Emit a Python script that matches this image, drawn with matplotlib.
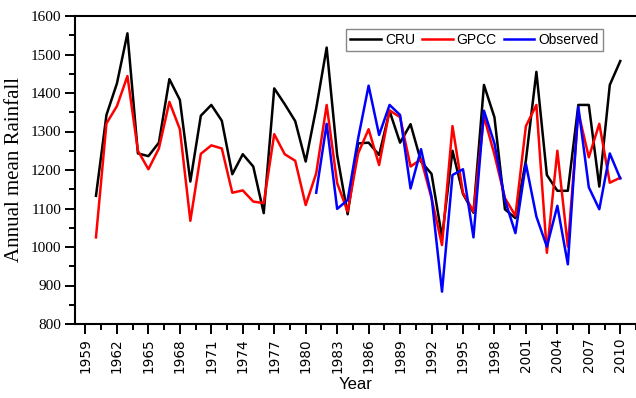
import matplotlib
matplotlib.use("Agg")
import matplotlib.pyplot as plt
from matplotlib.ticker import MultipleLocator

years = list(range(1960, 2011))
obs_years = list(range(1981, 2011))

cru = [1133, 1343, 1425, 1555, 1243, 1236, 1271, 1436, 1382, 1170,
       1341, 1369, 1328, 1189, 1241, 1209, 1088, 1412, 1371, 1327,
       1222, 1360, 1518, 1239, 1085, 1269, 1271, 1239, 1353, 1271,
       1319, 1222, 1190, 1025, 1250, 1138, 1089, 1421, 1337, 1098,
       1075, 1225, 1455, 1187, 1146, 1146, 1369, 1369, 1157, 1421,
       1483]

gpcc = [1025, 1321, 1366, 1444, 1250, 1202, 1256, 1377, 1306, 1068,
        1242, 1264, 1256, 1141, 1147, 1118, 1114, 1293, 1241, 1224,
        1109, 1191, 1369, 1166, 1092, 1243, 1306, 1213, 1355, 1337,
        1209, 1228, 1127, 1005, 1314, 1141, 1092, 1339, 1240, 1127,
        1081, 1314, 1369, 985, 1250, 1001, 1350, 1233, 1320, 1167,
        1180]

observed = [1141, 1320, 1099, 1122, 1282, 1419, 1291, 1369, 1343, 1152,
            1254, 1131, 884, 1187, 1202, 1025, 1354, 1269, 1122, 1036,
            1216, 1079, 1001, 1107, 955, 1364, 1155, 1098, 1243, 1178]

year_ticks = list(range(1959, 2011, 3))

fig = plt.figure(figsize=(6.36, 3.98), dpi=100)
ax = fig.add_axes([75 / 636, 1 - 324 / 398, 561 / 636, 308 / 398])

ax.plot(years, cru, color="black", lw=1.8, label="CRU")
ax.plot(years, gpcc, color="red", lw=1.8, label="GPCC")
ax.plot(obs_years, observed, color="blue", lw=1.8, label="Observed")

ax.set_xlim(1958, 2011.5)
ax.set_ylim(800, 1600)
ax.set_xticks(year_ticks)
ax.set_xticklabels([str(y) for y in year_ticks], rotation=90,
                   family="DejaVu Sans", fontsize=9.8)
ax.xaxis.set_minor_locator(MultipleLocator(1.5))
ax.yaxis.set_major_locator(MultipleLocator(100))
ax.yaxis.set_minor_locator(MultipleLocator(50))
for lbl in ax.get_yticklabels():
    lbl.set_family("Liberation Serif")
    lbl.set_fontsize(11)

ax.tick_params(which="major", direction="out", length=7, width=1.4, pad=3)
ax.tick_params(which="minor", direction="out", length=4, width=1.4)
ax.spines["right"].set_visible(False)
for side in ("left", "top", "bottom"):
    ax.spines[side].set_linewidth(1.5)

ax.set_xlabel("Year", family="Liberation Sans", fontsize=12, labelpad=3)
ax.set_ylabel("Annual mean Rainfall", family="Liberation Serif",
              fontsize=15, labelpad=5)

leg = ax.legend(loc="upper right", bbox_to_anchor=(0.941, 0.958),
                borderaxespad=0, ncol=3, fancybox=False, framealpha=1,
                edgecolor="#888888", handlelength=2.2, columnspacing=0.5,
                handletextpad=0.3, borderpad=0.3,
                prop={"family": "Liberation Sans", "size": 10})
leg.get_frame().set_linewidth(1.0)

fig.savefig("out.png", dpi=100)
